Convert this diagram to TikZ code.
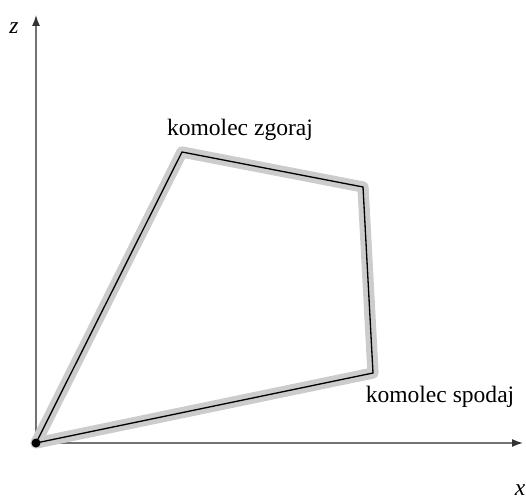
\documentclass[tikz,border=0pt]{standalone}
\usepackage{fontspec}
\setmainfont{Liberation Serif}
\usetikzlibrary{arrows.meta,positioning}
\tikzset{
  axis/.style={line width=.8pt,black!55,-{Latex[length=2.2mm,width=1.6mm,black!80]}},
  halo/.style={line width=6.4pt,black!20,line join=round,line cap=round},
  arm/.style={line width=.75pt,black,line join=miter},
  joint/.style={circle,fill=black,inner sep=0pt,minimum size=1.8mm},
  lab/.style={font=\fontsize{13.4}{16}\selectfont},
  axlab/.style={font=\fontsize{13.4}{16}\selectfont\itshape}
}
\begin{document}
\begin{tikzpicture}
  \useasboundingbox (-0.72,-1.1) rectangle (9.8,8.86);
  \coordinate (O) at (0,0);
  \coordinate (X) at (9.74,0);
  \coordinate (Z) at (0,8.56);
  \draw[axis] (O)--(X);
  \draw[axis] (O)--(Z);
  \node[axlab] (zl) at (-0.44,8.3) {z};
  \node[axlab] (xl) at (9.68,-0.94) {x};
  \coordinate (A) at (2.92,5.82);
  \coordinate (B) at (6.54,5.12);
  \coordinate (C) at (6.74,1.40);
  \draw[halo] (O)--(A)--(B)--(C)--cycle;
  \draw[arm] (O)--(A)--(B)--(C)--cycle;
  \node[joint] (o) at (O) {};
  \node[lab] (top) at (4.08,6.27) {komolec zgoraj};
  \node[lab] (bot) at (8.08,0.92) {komolec spodaj};
\end{tikzpicture}
\end{document}
